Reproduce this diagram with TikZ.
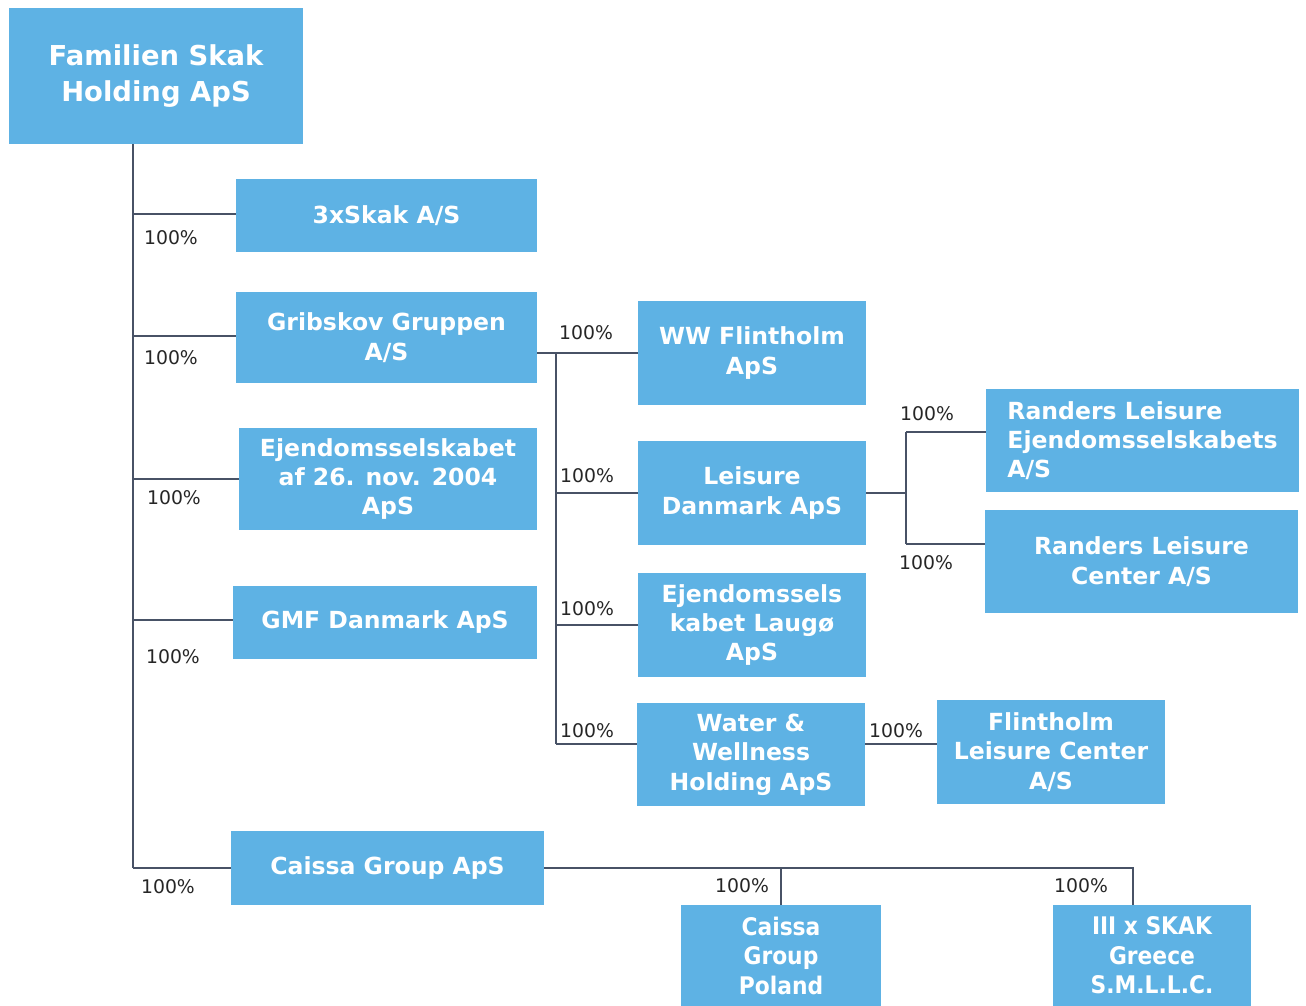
\documentclass[tikz,border=0pt]{standalone}
\usepackage{fontspec}
\setmainfont{DejaVu Sans}
\newfontfamily\condfont{DejaVu Sans Condensed}
\usetikzlibrary{positioning, calc}

\definecolor{skakblue}{RGB}{94,178,228}
\definecolor{linkgray}{RGB}{72,82,102}

\begin{document}
\begin{tikzpicture}[
    x=0.02cm, y=-0.02cm,
    company/.style={
        fill=skakblue, text=white, align=center, inner sep=0pt,
        font=\bfseries\fontsize{13.4}{16.7}\selectfont
    },
    pct/.style={font=\fontsize{10.7}{13}\selectfont, text=black!85, inner sep=0pt},
    link/.style={draw=linkgray, line width=1.1pt}
]
\useasboundingbox (0,0) rectangle (1306,1006);

% -------------------------
% Companies
% -------------------------

% Holding (top left)
\node[company, minimum width=5.88cm, minimum height=2.72cm,
      font=\bfseries\fontsize{15.6}{20.4}\selectfont] (holding) at (156,76)
    {Familien Skak\\Holding ApS};

% First level
\node[company, minimum width=6.02cm, minimum height=1.46cm] (skak3) at (386.5,215.5) {3xSkak A/S};
\node[company, minimum width=6.02cm, minimum height=1.82cm] (gribskov) at (386.5,337.5) {Gribskov Gruppen\\A/S};
\node[company, minimum width=5.96cm, minimum height=2.04cm] (ejendom) at (388,479) {Ejendomsselskabet\\af 26. nov. 2004\\ApS};
\node[company, minimum width=6.08cm, minimum height=1.46cm] (gmf) at (385,622.5) {GMF Danmark ApS};
\node[company, minimum width=6.26cm, minimum height=1.48cm] (caissa) at (387.5,868) {Caissa Group ApS};

% Under Gribskov Gruppen
\node[company, minimum width=4.56cm, minimum height=2.08cm] (wwflint) at (752,353) {WW Flintholm\\ApS};
\node[company, minimum width=4.56cm, minimum height=2.08cm] (leisure) at (752,493) {Leisure\\Danmark ApS};
\node[company, minimum width=4.56cm, minimum height=2.08cm] (laugo) at (752,625) {Ejendomssels\\kabet Laugø\\ApS};
\node[company, minimum width=4.56cm, minimum height=2.06cm] (water) at (751,754.5) {Water \&\\Wellness\\Holding ApS};

% Under Leisure Danmark / Water & Wellness
\node[company, minimum width=6.26cm, minimum height=2.06cm, align=left] (randersE) at (1142.5,440.5)
    {Randers Leisure\\Ejendomsselskabets\\A/S};
\node[company, minimum width=6.26cm, minimum height=2.06cm] (randersC) at (1141.5,561.5) {Randers Leisure\\Center A/S};
\node[company, minimum width=4.56cm, minimum height=2.08cm] (flintLC) at (1051,752) {Flintholm\\Leisure Center\\A/S};

% Under Caissa Group (cut by the page edge)
\node[company, minimum width=4.00cm, minimum height=2.02cm,
      font=\condfont\bfseries\fontsize{13.8}{16.8}\selectfont] (poland) at (781,955.5) {Caissa\\Group\\Poland};
\node[company, minimum width=3.96cm, minimum height=2.02cm,
      font=\condfont\bfseries\fontsize{13.8}{16.8}\selectfont] (greece) at (1152,955.5) {III x SKAK\\Greece\\S.M.L.L.C.};

% -------------------------
% Ownership lines
% -------------------------

% main trunk
\coordinate (trunk) at (133,868);
\draw[link] (holding.south -| trunk) -- (trunk);
\draw[link] ([yshift=0.03cm]skak3.west -| trunk) -- ([yshift=0.03cm]skak3.west);
\draw[link] ([yshift=0.03cm]gribskov.west -| trunk) -- ([yshift=0.03cm]gribskov.west);
\draw[link] (ejendom.west -| trunk) -- (ejendom.west);
\draw[link] ([yshift=0.05cm]gmf.west -| trunk) -- ([yshift=0.05cm]gmf.west);
\draw[link] (trunk) -- (caissa.west);

% Gribskov Gruppen branch
\coordinate (gsplit) at (556,353);
\coordinate (gend) at (556,744);
\draw[link] (gribskov.east |- gsplit) -- (wwflint.west);
\draw[link] (gsplit) -- (gend);
\draw[link] (gsplit |- leisure.west) -- (leisure.west);
\draw[link] (gsplit |- laugo.west) -- (laugo.west);
\draw[link] (gend) -- (gend -| water.west);

% Leisure Danmark branch
\coordinate (rtop) at (906,432);
\coordinate (rbot) at (906,544);
\draw[link] (leisure.east) -- (leisure.east -| rtop);
\draw[link] (rtop) -- (rbot);
\draw[link] (rtop) -- (rtop -| randersE.west);
\draw[link] (rbot) -- (rbot -| randersC.west);

% Water & Wellness -> Flintholm
\draw[link] (gend -| water.east) -- (gend -| flintLC.west);

% Caissa Group branch
\coordinate (cend) at (1133,868);
\draw[link] (caissa.east) -- (cend) -- (cend |- greece.north);
\draw[link] (caissa.east -| poland.north) -- (poland.north);

% -------------------------
% Percentages
% -------------------------
\node[pct] (pskak3) at (171,238) {100\%};
\node[pct] (pgribskov) at (171,358) {100\%};
\node[pct] (pejendom) at (174,498) {100\%};
\node[pct] (pgmf) at (173,657) {100\%};
\node[pct] (pcaissa) at (168,887) {100\%};
\node[pct] (pwwflint) at (586,333) {100\%};
\node[pct] (pleisure) at (587,476) {100\%};
\node[pct] (plaugo) at (587,609) {100\%};
\node[pct] (pwater) at (587,731) {100\%};
\node[pct] (prandersE) at (927,414) {100\%};
\node[pct] (prandersC) at (926,563) {100\%};
\node[pct] (pflintLC) at (896,731) {100\%};
\node[pct] (ppoland) at (742,886) {100\%};
\node[pct] (pgreece) at (1081,886) {100\%};

\end{tikzpicture}
\end{document}
